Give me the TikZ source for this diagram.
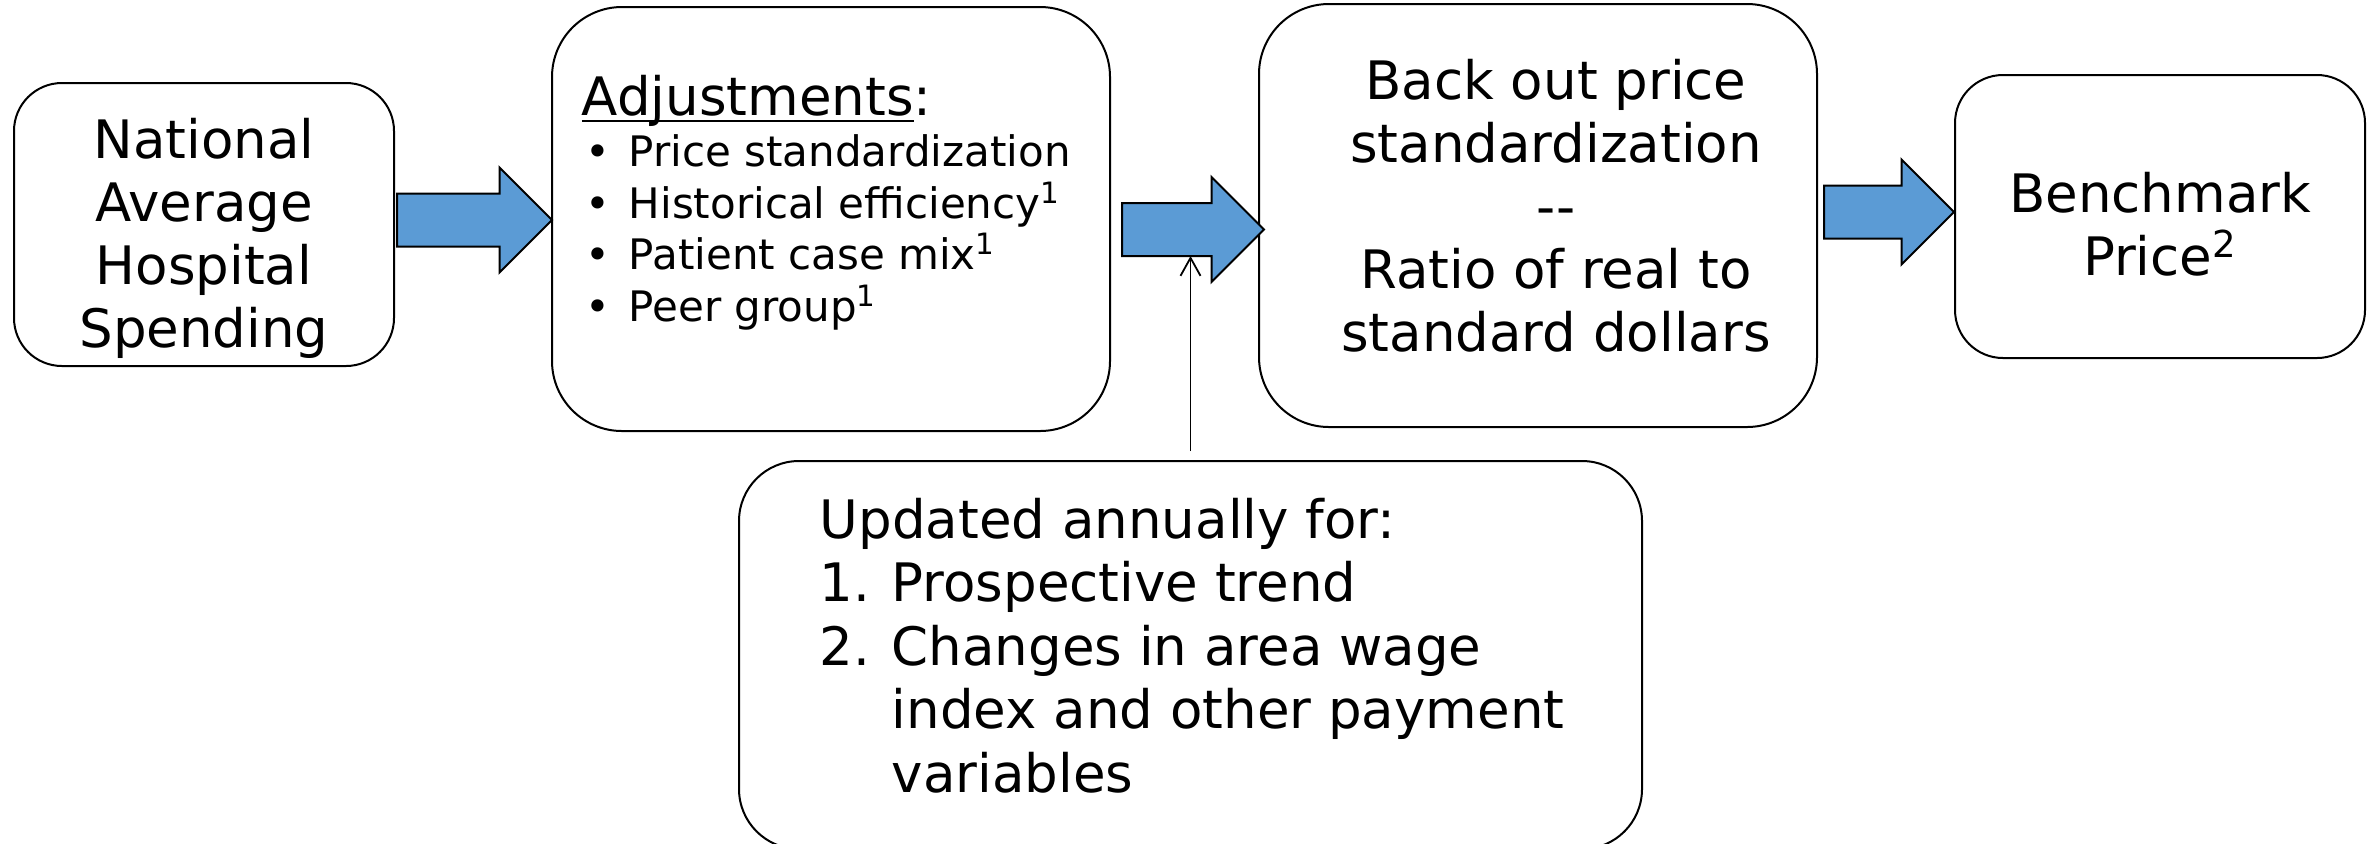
\documentclass[tikz,border=0pt]{standalone}
\usepackage{fontspec}
\setmainfont{DejaVu Sans}
\usetikzlibrary{shapes.arrows,arrows.meta,positioning}
\definecolor{arrowblue}{HTML}{5B9BD5}
\newcommand{\thickunderline}[1]{\setbox0\hbox{#1}\rlap{\rule[-3.5pt]{\wd0}{1pt}}\box0}

\begin{document}
\begin{tikzpicture}[
		x=0.5pt, y=-0.5pt,
		thick,
		box/.style={rectangle, draw, line width=1pt, rounded corners=#1, inner sep=0pt},
		box/.default=24pt,
		boxtext/.style={inner sep=0pt, align=center, font=\fontsize{26.5}{31.5}\selectfont},
		bigarrow/.style={single arrow, draw, line width=1pt, fill=arrowblue, single arrow head extend=13pt, inner xsep=0pt, inner ysep=12.75pt, minimum width=0pt, anchor=tail},
		listtext/.style={anchor=north west, inner sep=0pt, align=left}
	]
	\useasboundingbox (0,0) rectangle (2377,843);

	\node[box, minimum width=190pt, minimum height=141.5pt] (Spending) at (204,224.5) {};
	\node[box=35pt, minimum width=279pt, minimum height=212pt] (Adjust) at (831,219) {};
	\node[box=35pt, minimum width=279pt, minimum height=211.5pt] (BackOut) at (1538,215.5) {};
	\node[box, minimum width=205pt, minimum height=141.5pt] (Benchmark) at (2160,216.5) {};
	\node[box=30pt, minimum width=451.5pt, minimum height=194pt] (Updates) at (1190.5,655) {};

	\node[boxtext] (SpendingText) at ([yshift=-7pt]Spending.center) {National\\Average\\Hospital\\Spending};
	\node[boxtext] (BackOutText) at ([xshift=9pt,yshift=5pt]BackOut.center) {Back out price\\standardization\\-{}-\\Ratio of real to\\standard dollars};
	\node[boxtext] (BenchmarkText) at ([yshift=-4pt]Benchmark.center) {Benchmark\\Price\textsuperscript{2}};

	\node[listtext, font=\fontsize{21}{25.75}\selectfont] (AdjText) at (581,74) {{\fontsize{26.5}{31.5}\selectfont\thickunderline{Adjustments}:}\\
		\hspace*{2pt}\makebox[21.5pt][l]{\textbullet}Price standardization\\
		\hspace*{2pt}\makebox[21.5pt][l]{\textbullet}Historical efficiency\textsuperscript{1}\\
		\hspace*{2pt}\makebox[21.5pt][l]{\textbullet}Patient case mix\textsuperscript{1}\\
		\hspace*{2pt}\makebox[21.5pt][l]{\textbullet}Peer group\textsuperscript{1}};
	\node[listtext, font=\fontsize{26.5}{31.8}\selectfont] (UpdText) at (819,497) {Updated annually for:\\
		\makebox[36pt][l]{1.}Prospective trend\\
		\makebox[36pt][l]{2.}Changes in area wage\\
		\hspace*{36pt}index and other payment\\
		\hspace*{36pt}variables};

	\node[bigarrow, minimum height=77.5pt] (ArrA) at (396,220) {};
	\node[bigarrow, minimum height=71pt] (ArrB) at (1121,229.5) {};
	\node[bigarrow, minimum height=65pt] (ArrC) at (1823,212) {};

	\coordinate (Hit) at (1190.5,256);
	\draw[-{Straight Barb[length=9pt,width=10pt]}, line width=0.9pt] ([yshift=4.5pt]Updates.north) -- (Hit);

\end{tikzpicture}
\end{document}
